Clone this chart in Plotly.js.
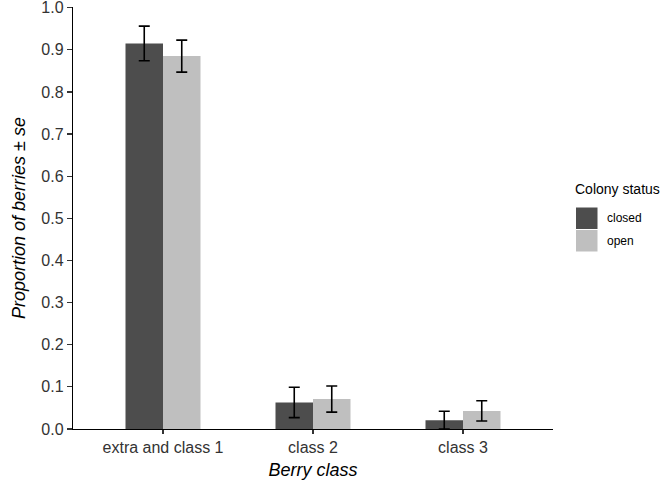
<!DOCTYPE html>
<html>
<head>
<meta charset="utf-8">
<script src="https://cdn.plot.ly/plotly-3.0.1.min.js"></script>
<style>html,body{margin:0;padding:0;background:#fff;}#chart{width:666px;height:485px;}</style>
</head>
<body>
<div id="chart"></div>
<script>
const categories = ["extra and class 1", "class 2", "class 3"];
const closedValues = [0.915, 0.063, 0.021];
const closedSE = [0.041, 0.036, 0.021];
const openValues = [0.885, 0.071, 0.043];
const openSE = [0.038, 0.031, 0.024];
const seriesNames = ["closed", "open"];
const seriesColors = ["#4d4d4d", "#bfbfbf"];
const yTicks = [0, 0.1, 0.2, 0.3, 0.4, 0.5, 0.6, 0.7, 0.8, 0.9, 1.0];

const font = "Liberation Sans, Arial, Helvetica, sans-serif";
const errStyle = {type: "data", visible: true, color: "#000", thickness: 1.6, width: 5.5};

const traces = [
  {type: "bar", name: seriesNames[0], x: categories, y: closedValues,
   marker: {color: seriesColors[0]},
   error_y: Object.assign({array: closedSE}, errStyle), showlegend: false},
  {type: "bar", name: seriesNames[1], x: categories, y: openValues,
   marker: {color: seriesColors[1]},
   error_y: Object.assign({array: openSE}, errStyle), showlegend: false}
];

const plotTop = 7, plotBot = 429, plotLeft = 73, plotRight = 553;
const legX = 575.5, legY0 = 207, keySize = 22.5;
const shapes = seriesNames.map((n, i) => ({
  type: "rect", xref: "paper", yref: "paper",
  x0: (legX - plotLeft) / (plotRight - plotLeft), x1: (legX + keySize - plotLeft) / (plotRight - plotLeft),
  y0: (plotBot - (legY0 + i * keySize + keySize)) / (plotBot - plotTop),
  y1: (plotBot - (legY0 + i * keySize)) / (plotBot - plotTop),
  fillcolor: seriesColors[i], line: {color: "#ffffff", width: 1}
}));
const annotations = seriesNames.map((n, i) => ({
  xref: "paper", yref: "paper", xanchor: "left", yanchor: "middle",
  x: (605 - plotLeft) / (plotRight - plotLeft),
  y: (plotBot - (legY0 + i * keySize + keySize / 2)) / (plotBot - plotTop),
  text: n, showarrow: false, font: {family: font, size: 12, color: "#000"}
}));
annotations.push({
  xref: "paper", yref: "paper", xanchor: "left", yanchor: "middle",
  x: (573 - plotLeft) / (plotRight - plotLeft), y: (plotBot - 189) / (plotBot - plotTop),
  text: "Colony status", showarrow: false, font: {family: font, size: 14, color: "#000"}
});

const layout = {
  width: 666, height: 485,
  margin: {l: plotLeft, r: 666 - plotRight, t: plotTop, b: 485 - plotBot, pad: 0},
  paper_bgcolor: "#fff", plot_bgcolor: "#fff",
  barmode: "group", bargap: 0.5, bargroupgap: 0,
  showlegend: false,
  font: {family: font, color: "#333"},
  xaxis: {
    type: "category", range: [-0.6, 2.6],
    showline: true, linecolor: "#000", linewidth: 1.2,
    ticks: "outside", ticklen: 4, tickcolor: "#333", tickwidth: 1.2,
    showgrid: false, zeroline: false,
    tickfont: {family: font, size: 16, color: "#333"},
    title: {text: "<i>Berry class</i>", font: {family: font, size: 18, color: "#000"}, standoff: 8}
  },
  yaxis: {
    range: [0, 1.0015], tickvals: yTicks, ticktext: yTicks.map(v => v.toFixed(1)),
    ticklabeloverflow: "allow",
    showline: true, linecolor: "#000", linewidth: 1.2,
    ticks: "outside", ticklen: 5, tickcolor: "#333", tickwidth: 1.2,
    showgrid: false, zeroline: false,
    tickfont: {family: font, size: 16, color: "#333"},
    title: {text: "<i>Proportion of berries ± se</i>", font: {family: font, size: 18, color: "#000"}, standoff: 11}
  },
  shapes: shapes,
  annotations: annotations
};

Plotly.newPlot("chart", traces, layout, {displayModeBar: false, staticPlot: true});
</script>
</body>
</html>
